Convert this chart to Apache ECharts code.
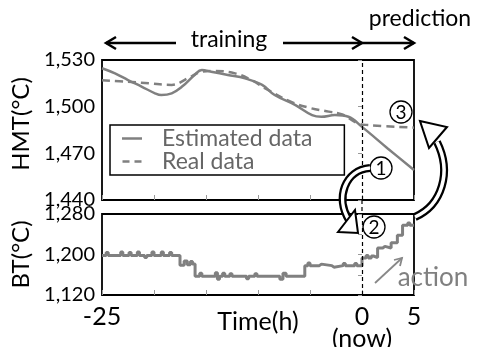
<!doctype html>
<html lang="en">
<head>
<meta charset="UTF-8" />
<title>HMT and BT</title>
<script src="https://cdn.jsdelivr.net/npm/echarts@6/dist/echarts.min.js"></script>
<style>
  html, body { margin: 0; padding: 0; background: #fff; }
  #chart { width: 477px; height: 347px; }
</style>
</head>
<body>
<div id="chart"></div>
<script>
// ---- data ----
// HMT, top panel (time in h, value in degC)
var estTime  = [-25, -23.75, -22.5, -21.2, -19.9, -19.3, -18.3, -17.3, -16.1, -15.4, -14.5, -12.9, -11.25, -9.6, -8.4, -6.4, -4.8, -3.9, -2.6, -1.3, 0, 2.5, 5];
var estValue = [1524.7, 1521.4, 1517.1, 1512.9, 1508.6, 1507.5, 1508.6, 1512.9, 1520.4, 1523.6, 1522.5, 1520.4, 1518.2, 1514, 1507.5, 1501, 1494.6, 1493.5, 1494.6, 1493.5, 1487, 1473, 1459.3];
var realTime  = [-25, -22.5, -20.5, -18.3, -16.7, -15.4, -14.2, -12.2, -10.6, -9.3, -6.8, -4.9, -3.2, -1.9, -0.4, 0.6, 5];
var realValue = [1517, 1516, 1515, 1514, 1518.4, 1522.5, 1523, 1521.4, 1517, 1511.8, 1503, 1499, 1496.8, 1495, 1489.3, 1488.2, 1486.5];

// BT, bottom panel (step line)
var btTime  = [-25, -24.6, -24.4, -23.2, -23.0, -22.4, -22.2, -21.6, -21.4, -20.9, -20.7, -20.2, -20.0, -19.3, -19.1, -18.5, -18.3,
               -17.5, -17.1, -16.8, -16.5, -16.3,
               -16.05, -15.6, -15.4, -14.1, -13.9, -13.7, -13.4, -13.2, -12.7, -12.5, -11.1, -10.9, -10.3, -10.1, -7.9, -7.6, -7.3,
               -5.5, -5.2, -5.0, -4.1, -3.9, -2.9, -2.7, -1.8, -1.6, -0.7, -0.5,
               0, 0.4, 0.6, 0.9, 1.1, 1.5, 2.0, 2.2, 2.8, 3.4, 3.9, 4.4, 4.6, 5];
var btValue = [1198, 1204, 1198, 1205, 1198, 1204, 1198, 1205, 1198, 1194, 1198, 1205, 1198, 1205, 1198, 1204, 1198,
               1179, 1187, 1180, 1186, 1181,
               1157, 1163, 1157, 1164, 1151, 1157, 1163, 1157, 1162, 1157, 1152, 1157, 1162, 1157, 1151, 1163, 1157,
               1178, 1183, 1178, 1181, 1178, 1175, 1178, 1182, 1178, 1182, 1178,
               1193, 1198, 1193, 1197, 1194, 1213, 1216, 1213, 1223, 1238, 1258, 1262, 1258, 1258];

// tick labels
var hmtTickValues = [1440, 1470, 1500, 1530];
var hmtTickLabels = ['1,440', '1,470', '1,500', '1,530'];
var btTickValues = [1120, 1200, 1280];
var btTickLabels = ['1,120', '1,200', '1,280'];
var timeTickValues = [-25, 0, 5];
var timeTickLabels = ['-25', '0\n(now)', '5'];

function pairs(xs, ys) {
  return xs.map(function (x, i) { return [x, ys[i]]; });
}
function lookup(values, labels) {
  return function (v) {
    var i = values.indexOf(v);
    return i < 0 ? '' : labels[i];
  };
}

var FONT = 'Lato';
var GRAY = '#808080';

var chart = echarts.init(document.getElementById('chart'), null, { renderer: 'canvas' });

var vline = {
  silent: true,
  symbol: 'none',
  label: { show: false },
  lineStyle: { color: '#000', type: [4, 3], width: 1.2 },
  data: [{ xAxis: 0 }]
};

var option = {
  animation: false,
  textStyle: { fontFamily: FONT },
  grid: [
    { left: 102, top: 60, width: 312, height: 140, show: true, borderColor: '#000', borderWidth: 1.8, outerBoundsMode: 'none' },
    { left: 102, top: 214, width: 312, height: 81, show: true, borderColor: '#000', borderWidth: 1.8, outerBoundsMode: 'none' }
  ],
  legend: {
    left: 110, top: 125,
    orient: 'vertical',
    data: [
      { name: 'Estimated data', icon: 'path://M0,0H20V2.5H0Z' },
      { name: 'Real data', icon: 'path://M0,0H7V2.5H0Z M12,0H19V2.5H12Z' }
    ],
    backgroundColor: '#fff',
    borderColor: '#000',
    borderWidth: 1.5,
    borderRadius: 0,
    padding: [2, 32, 2, 12],
    itemGap: 0,
    itemWidth: 20,
    itemHeight: 2.5,
    itemStyle: { color: GRAY },
    textStyle: { fontFamily: FONT, fontSize: 23, color: '#666', lineHeight: 22, padding: [0, 0, 0, 15] }
  },
  xAxis: [
    {
      type: 'value', gridIndex: 0, min: -25, max: 5, interval: 5,
      axisLine: { show: false },
      axisTick: { show: true, inside: true, length: 5, lineStyle: { color: '#999' } },
      axisLabel: { show: false },
      splitLine: { show: false }
    },
    {
      type: 'value', gridIndex: 1, min: -25, max: 5, interval: 5,
      name: 'Time(h)', nameLocation: 'middle', nameGap: 14, nameMoveOverlap: false,
      nameTextStyle: { fontFamily: FONT, fontSize: 25, color: '#000' },
      axisLine: { show: false },
      axisTick: { show: true, inside: true, length: 5, lineStyle: { color: '#999' } },
      axisLabel: {
        show: true, margin: 11, fontFamily: FONT, fontSize: 25, color: '#000', lineHeight: 22,
        showMinLabel: true, showMaxLabel: true,
        formatter: lookup(timeTickValues, timeTickLabels)
      },
      splitLine: { show: false }
    }
  ],
  yAxis: [
    {
      type: 'value', gridIndex: 0, min: 1440, max: 1530, interval: 30,
      name: 'HMT(°C)', nameLocation: 'middle', nameGap: 64, nameRotate: 90,
      nameTextStyle: { fontFamily: FONT, fontSize: 24, color: '#000', padding: [0, 0, 0, 12] },
      axisLine: { show: false },
      axisTick: { show: true, length: 4, lineStyle: { color: '#999' } },
      axisLabel: { margin: 7, fontFamily: FONT, fontSize: 20, color: '#000', formatter: lookup(hmtTickValues, hmtTickLabels) },
      splitLine: { show: false }
    },
    {
      type: 'value', gridIndex: 1, min: 1120, max: 1280, interval: 40,
      name: 'BT(°C)', nameLocation: 'middle', nameGap: 64, nameRotate: 90,
      nameTextStyle: { fontFamily: FONT, fontSize: 24, color: '#000' },
      axisLine: { show: false },
      axisTick: { show: true, length: 4, lineStyle: { color: '#999' } },
      axisLabel: { margin: 7, fontFamily: FONT, fontSize: 20, color: '#000', formatter: lookup(btTickValues, btTickLabels) },
      splitLine: { show: false }
    }
  ],
  series: [
    {
      name: 'Estimated data', type: 'line', xAxisIndex: 0, yAxisIndex: 0,
      data: pairs(estTime, estValue), smooth: 0.4, symbol: 'none',
      lineStyle: { color: GRAY, width: 2.5 }, itemStyle: { color: GRAY },
      markLine: vline
    },
    {
      name: 'Real data', type: 'line', xAxisIndex: 0, yAxisIndex: 0,
      data: pairs(realTime, realValue), smooth: 0.4, symbol: 'none',
      lineStyle: { color: GRAY, width: 2.5, type: [8, 5] }, itemStyle: { color: GRAY }
    },
    {
      name: 'BT', type: 'line', xAxisIndex: 1, yAxisIndex: 1,
      data: pairs(btTime, btValue), step: 'end', symbol: 'none',
      lineStyle: { color: GRAY, width: 3 },
      markLine: vline
    }
  ]
};
chart.setOption(option);

// annotations: arrows, phase labels, circled steps
var x0 = chart.convertToPixel({ xAxisIndex: 0 }, 0);
var xEnd = chart.convertToPixel({ xAxisIndex: 0 }, 5);
var xStart = chart.convertToPixel({ xAxisIndex: 0 }, -25);
var ink = { stroke: '#000', lineWidth: 2.5, fill: null };

function txt(s, x, y, size, color, align) {
  return {
    type: 'text', z: 100, x: x, y: y,
    style: { text: s, font: size + 'px ' + FONT, fill: color || '#000',
             align: align || 'center', verticalAlign: 'middle',
             textAlign: align || 'center', textVerticalAlign: 'middle' }
  };
}
function circled(n, cx, cy) {
  return [
    { type: 'circle', z: 100, shape: { cx: cx, cy: cy, r: 11 }, style: { fill: '#fff', stroke: '#000', lineWidth: 1.3 } },
    txt(String(n), cx, cy + 1, 19, '#000')
  ];
}
// c = [x1, y1, cpx1, cpy1, cpx2, cpy2, x2, y2]
function bigArrow(c, head) {
  var shape = { x1: c[0], y1: c[1], cpx1: c[2], cpy1: c[3], cpx2: c[4], cpy2: c[5], x2: c[6], y2: c[7] };
  return [
    { type: 'bezierCurve', z: 100, shape: shape, style: { fill: null, stroke: '#000', lineWidth: 8 } },
    { type: 'bezierCurve', z: 101, shape: shape, style: { fill: null, stroke: '#fff', lineWidth: 3.5 } },
    { type: 'polygon', z: 102, shape: { points: head }, style: { fill: '#fff', stroke: '#000', lineWidth: 2 } }
  ];
}

var g = [
  // training arrow
  { type: 'line', z: 100, shape: { x1: xStart + 4, y1: 43, x2: 176, y2: 43 }, style: ink },
  { type: 'polyline', z: 100, shape: { points: [[xStart + 14, 37], [xStart + 4, 43], [xStart + 14, 49]] }, style: ink },
  { type: 'line', z: 100, shape: { x1: 283, y1: 43, x2: x0, y2: 43 }, style: ink },
  { type: 'polyline', z: 100, shape: { points: [[x0 - 10, 37], [x0, 43], [x0 - 10, 49]] }, style: ink },
  txt('training', 229, 40, 23),
  // prediction arrow
  { type: 'line', z: 100, shape: { x1: x0, y1: 43, x2: xEnd, y2: 43 }, style: ink },
  { type: 'polyline', z: 100, shape: { points: [[xEnd - 10, 37], [xEnd, 43], [xEnd - 10, 49]] }, style: ink },
  txt('prediction', 420, 19, 23),
  // dashed "now" line through the gap between the panels
  { type: 'line', z: 100, shape: { x1: x0, y1: 200, x2: x0, y2: 214 }, style: { stroke: '#000', lineWidth: 1.2, lineDash: [4, 3] } },
  // action arrow
  { type: 'line', z: 100, shape: { x1: 375, y1: 283, x2: 402, y2: 258 }, style: { stroke: '#888', lineWidth: 1.8 } },
  { type: 'polyline', z: 100, shape: { points: [[394, 260], [402, 258], [400, 266]] }, style: { stroke: '#888', lineWidth: 1.8, fill: null } },
  txt('action', 433, 278, 26, '#808080')
];
g = g.concat(bigArrow([370, 168, 345, 170, 335, 198, 349, 220], [[338, 232], [358, 233], [355, 210]]));
g = g.concat(bigArrow([415, 217, 442, 205, 452, 172, 437, 142], [[420, 121], [447, 127], [429, 148]]));
g = g.concat(circled(1, 381, 168), circled(2, 374, 227), circled(3, 401, 112));

chart.setOption({ graphic: g });
</script>
</body>
</html>
